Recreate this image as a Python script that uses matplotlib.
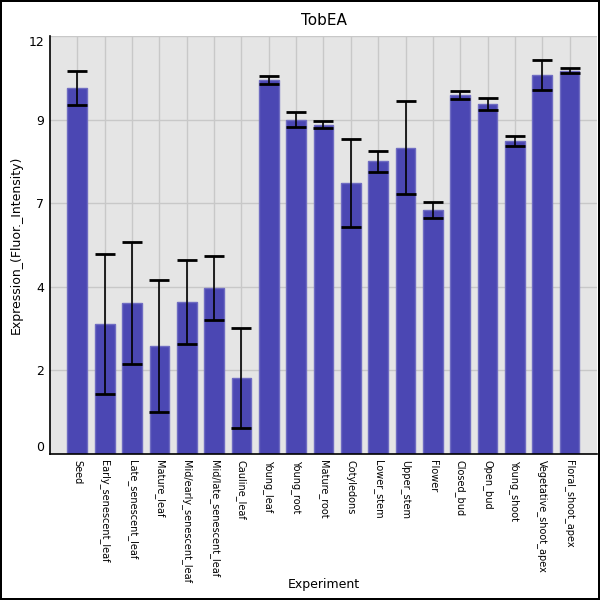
import numpy as np
import matplotlib
matplotlib.use('Agg')
import matplotlib.pyplot as plt

experiments = ['Seed', 'Early_senescent_leaf', 'Late_senescent_leaf', 'Mature_leaf',
               'Mid/early_senescent_leaf', 'Mid/late_senescent_leaf', 'Cauline_leaf',
               'Young_leaf', 'Young_root', 'Mature_root', 'Cotyledons', 'Lower_stem',
               'Upper_stem', 'Flower', 'Closed_bud', 'Open_bud', 'Young_shoot',
               'Vegetative_shoot_apex', 'Floral_shoot_apex']
expression = [10.51, 3.73, 4.34, 3.10, 4.36, 4.77, 2.18, 10.74, 9.60, 9.45,
              7.78, 8.41, 8.79, 7.01, 10.31, 10.05, 8.99, 10.88, 11.00]
errors = [0.48, 2.0, 1.76, 1.9, 1.21, 0.91, 1.44, 0.11, 0.22, 0.10,
          1.25, 0.30, 1.34, 0.23, 0.11, 0.17, 0.15, 0.42, 0.07]
ytick_values = [0, 2.4, 4.8, 7.2, 9.6, 12]
ytick_labels = ['0', '2', '4', '7', '9', '12']

fig = plt.figure(figsize=(6, 6), dpi=100)
fig.patch.set_edgecolor('black')
fig.patch.set_linewidth(1.5)
ax = fig.add_axes([0.0833, 0.2433, 0.9117, 0.6967])
ax.set_facecolor('#e5e5e5')

x = np.arange(len(experiments))
ax.bar(x, expression, width=0.72, color='#4b47b3', edgecolor='#6f6cc2', linewidth=1, zorder=2)
ax.errorbar(x, expression, yerr=errors, fmt='none', ecolor='black', elinewidth=1.2,
            capsize=7.5, capthick=2, zorder=3)

ax.set_xlim(-1, len(experiments))
ax.set_ylim(0, 12)
ax.set_xticks(x)
ax.set_xticklabels(experiments, rotation=270, fontsize=7)
ax.set_yticks(ytick_values)
ax.set_yticklabels(ytick_labels, fontsize=9)
# end labels sit inside the axis range, as in the original
ylabs = ax.get_yticklabels()
ylabs[0].set_va('bottom')
ylabs[-1].set_va('top')
ax.tick_params(length=0, pad=4)
ax.grid(True, color='#c8c8c8', linewidth=1, zorder=0)
ax.set_axisbelow(True)
for s in ['top', 'right']:
    ax.spines[s].set_visible(False)
ax.spines['left'].set_linewidth(1.2)
ax.spines['bottom'].set_linewidth(1.2)

ax.set_title('TobEA', fontsize=11, pad=8)
ax.set_xlabel('Experiment', fontsize=9)
ax.set_ylabel('Expression_(Fluor._Intensity)', fontsize=9)
ax.xaxis.set_label_coords(0.5, -0.297)

fig.savefig('out.png', dpi=100, edgecolor=fig.get_edgecolor())
